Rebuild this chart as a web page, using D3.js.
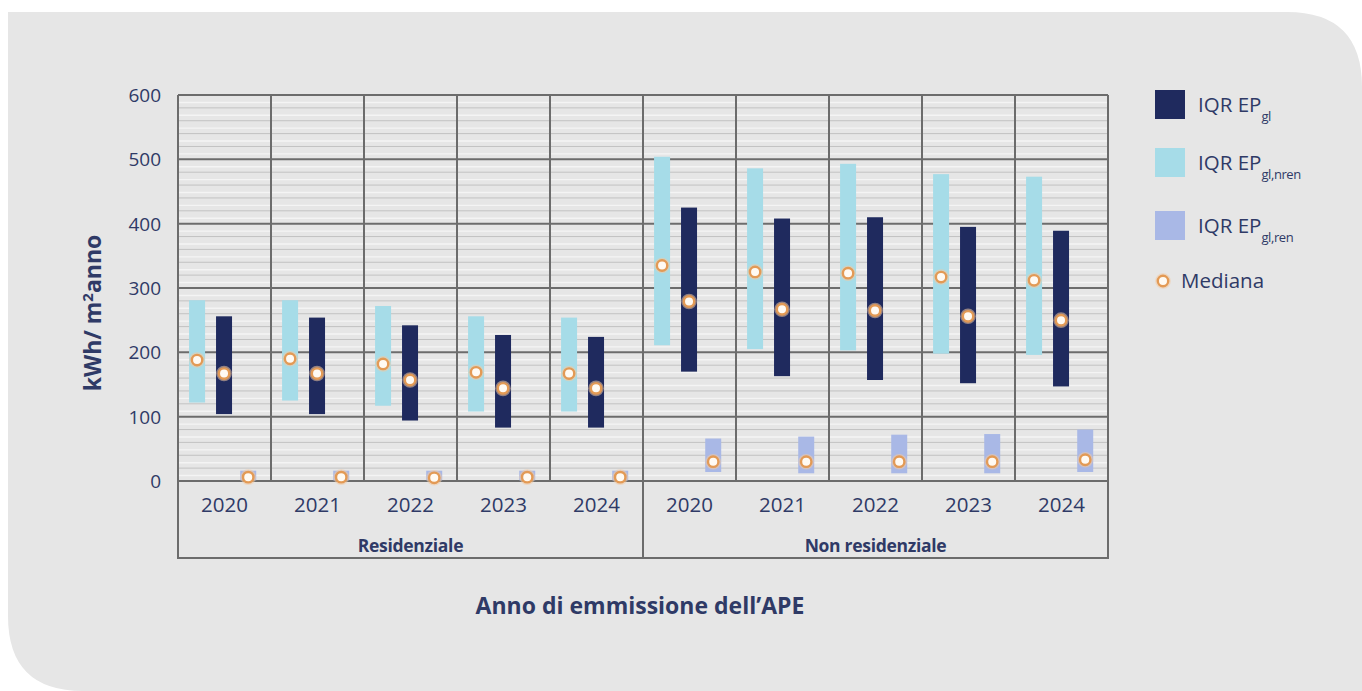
<!DOCTYPE html>
<html>
<head>
<meta charset="utf-8">
<script src="https://cdn.jsdelivr.net/npm/d3@7"></script>
<style>
  html, body { margin: 0; padding: 0; background: #ffffff; }
  svg { display: block; font-family: "Open Sans", "Noto Sans", sans-serif; }
</style>
</head>
<body>
<svg id="chart" width="1362" height="691"></svg>
<script>
// categories
const years = ["2020", "2021", "2022", "2023", "2024"];
const groups = ["Residenziale", "Non residenziale"];
const yTicks = [0, 100, 200, 300, 400, 500, 600];

// IQR EP_gl (navy)
const glLow  = [104, 104, 94, 83, 83, 170, 163, 157, 152, 147];
const glHigh = [256, 254, 242, 227, 224, 425, 408, 410, 395, 389];
const glMed  = [167, 167, 157, 144, 144, 279, 267, 265, 256, 250];
// IQR EP_gl,nren (light cyan)
const nrenLow  = [122, 125, 117, 108, 108, 211, 205, 203, 198, 196];
const nrenHigh = [281, 281, 272, 256, 254, 504, 486, 493, 477, 473];
const nrenMed  = [188, 190, 182, 169, 167, 335, 325, 323, 317, 312];
// IQR EP_gl,ren (lavender)
const renLow  = [1, 1, 1, 1, 1, 14, 12, 12, 12, 14];
const renHigh = [16, 16, 16, 16, 16, 66, 69, 72, 73, 80];
const renMed  = [6, 6, 5, 6, 6, 30, 30, 30, 30, 33];

const cNavy = "#1f2a5e", cCyan = "#a6dce8", cLav = "#a9b8e6";
const cText = "#2f3a66", cGrid = "#6c6c6c", cOrange = "#e39a55";

const svg = d3.select("#chart");

// background panel, square top-left, rounded top-right and bottom-left
const px0 = 8, py0 = 12, px1 = 1380, py1 = 691, rr = 75;
svg.append("path")
  .attr("d", `M${px0},${py0} L${px1 - rr - 18},${py0} Q${px1 - 18},${py0} ${px1 - 18},${py0 + rr} L${px1},${py1 + 20} L${px0 + rr},${py1} Q${px0},${py1} ${px0},${py1 - rr} Z`)
  .attr("fill", "#e6e6e6");

const keys = [];
groups.forEach(g => years.forEach(y => keys.push(g + "|" + y)));

const x = d3.scaleBand().domain(keys).range([178, 1108]).padding(0);
const y = d3.scaleLinear().domain([0, 600]).range([481, 95]);
const bw = x.bandwidth();
const barW = 16;

const plot = svg.append("g");

// minor grid lines
const minorGray = d3.range(20, 600, 20).filter(v => v % 100 !== 0);
const minorWhite = d3.range(10, 600, 20);
plot.selectAll("line.mw").data(minorWhite).enter().append("line")
  .attr("x1", 178).attr("x2", 1108)
  .attr("y1", d => y(d) + 1).attr("y2", d => y(d) + 1)
  .attr("stroke", "#f4f4f4").attr("stroke-width", 1.4);
plot.selectAll("line.mg").data(minorGray).enter().append("line")
  .attr("x1", 178).attr("x2", 1108)
  .attr("y1", d => y(d)).attr("y2", d => y(d))
  .attr("stroke", "#c2c2c2").attr("stroke-width", 1);

// major grid
plot.selectAll("line.major").data(yTicks).enter().append("line")
  .attr("x1", 178).attr("x2", 1108)
  .attr("y1", d => y(d)).attr("y2", d => y(d))
  .attr("stroke", cGrid).attr("stroke-width", 2);

// vertical separators
const seps = keys.map(k => x(k)).concat([1108]);
plot.selectAll("line.sep").data(seps).enter().append("line")
  .attr("x1", d => d).attr("x2", d => d)
  .attr("y1", y(600)).attr("y2", y(0))
  .attr("stroke", cGrid).attr("stroke-width", 2);

// lower category box
const boxBottom = 558;
[178, x(groups[1] + "|" + years[0]), 1108].forEach(xx => {
  plot.append("line").attr("x1", xx).attr("x2", xx)
    .attr("y1", y(0)).attr("y2", boxBottom)
    .attr("stroke", cGrid).attr("stroke-width", 2);
});
plot.append("line").attr("x1", 177).attr("x2", 1109)
  .attr("y1", boxBottom).attr("y2", boxBottom)
  .attr("stroke", cGrid).attr("stroke-width", 2);

// bars
function bars(low, high, frac, color) {
  plot.append("g").selectAll("rect").data(keys).enter().append("rect")
    .attr("x", (d, i) => x(d) + bw * frac - barW / 2)
    .attr("width", barW)
    .attr("y", (d, i) => y(high[i]))
    .attr("height", (d, i) => y(low[i]) - y(high[i]))
    .attr("fill", color);
}
bars(nrenLow, nrenHigh, 0.205, cCyan);
bars(glLow, glHigh, 0.495, cNavy);
bars(renLow, renHigh, 0.755, cLav);

// median markers
function marker(g, cx, cy) {
  g.append("circle").attr("cx", cx).attr("cy", cy).attr("r", 7.8)
    .attr("fill", "#f3c9a0").attr("opacity", 0.55);
  g.append("circle").attr("cx", cx).attr("cy", cy).attr("r", 5.2)
    .attr("fill", "#fffaf3")
    .attr("stroke", cOrange).attr("stroke-width", 2.4);
}
function medians(vals, frac) {
  const g = plot.append("g");
  keys.forEach((k, i) => marker(g, x(k) + bw * frac, y(vals[i])));
}
medians(nrenMed, 0.205);
medians(glMed, 0.495);
medians(renMed, 0.755);

// y tick labels
svg.append("g").selectAll("text").data(yTicks).enter().append("text")
  .attr("x", 161).attr("y", d => y(d) + 7)
  .attr("text-anchor", "end")
  .attr("font-size", 19).attr("fill", cText)
  .text(d => d);

// year labels
svg.append("g").selectAll("text").data(keys).enter().append("text")
  .attr("x", d => x(d) + bw / 2).attr("y", 512)
  .attr("text-anchor", "middle")
  .attr("font-size", 20.5).attr("fill", cText)
  .text(d => d.split("|")[1]);

// group labels
svg.append("g").selectAll("text").data(groups).enter().append("text")
  .attr("x", g => (x(g + "|" + years[0]) + x(g + "|" + years[4]) + bw) / 2)
  .attr("y", 552)
  .attr("text-anchor", "middle")
  .attr("font-size", 17.5).attr("font-weight", "bold")
  .attr("letter-spacing", -0.3)
  .attr("fill", cText)
  .text(d => d);

// axis titles
svg.append("text")
  .attr("x", 640).attr("y", 614)
  .attr("text-anchor", "middle")
  .attr("font-size", 23).attr("font-weight", "bold").attr("fill", cText)
  .text("Anno di emmissione dell\u2019APE");

const yt = svg.append("text")
  .attr("transform", "translate(101,313) rotate(-90)")
  .attr("text-anchor", "middle")
  .attr("font-size", 23).attr("font-weight", "bold").attr("fill", cText);
yt.append("tspan").text("kWh/ m");
yt.append("tspan").attr("font-size", 15).attr("dy", -8).text("2");
yt.append("tspan").attr("dy", 8).text("anno");

// legend
const legendItems = [
  { color: cNavy, sub: "gl", y: 90 },
  { color: cCyan, sub: "gl,nren", y: 148 },
  { color: cLav, sub: "gl,ren", y: 211 }
];
const leg = svg.append("g");
legendItems.forEach(it => {
  leg.append("rect").attr("x", 1155).attr("y", it.y)
    .attr("width", 30).attr("height", 29).attr("fill", it.color);
  const t = leg.append("text").attr("x", 1198).attr("y", it.y + 22)
    .attr("font-size", 20.5).attr("fill", cText);
  t.append("tspan").text("IQR EP");
  t.append("tspan").attr("font-size", 13).attr("dy", 9).attr("letter-spacing", -0.4).text(it.sub);
});
marker(leg, 1163, 281);
leg.append("text").attr("x", 1181).attr("y", 288)
  .attr("font-size", 20.5).attr("fill", cText).text("Mediana");
</script>
</body>
</html>
